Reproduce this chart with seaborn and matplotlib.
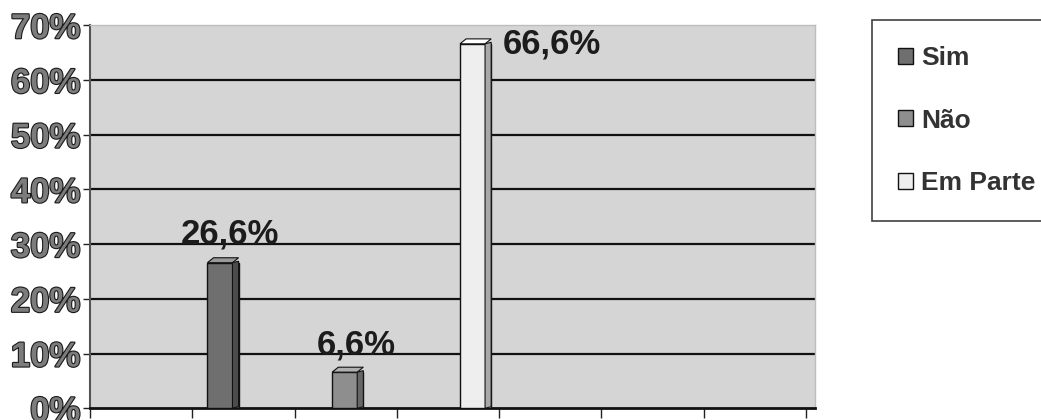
import matplotlib
matplotlib.use("Agg")
import matplotlib.pyplot as plt
import matplotlib.patheffects as pe
from matplotlib.patches import Polygon
import seaborn as sns
import pandas as pd

# Survey answers and their shares (%)
respostas = ["Sim", "Não", "Em Parte"]
percentuais = [26.6, 6.6, 66.6]
rotulos = ["26,6%", "6,6%", "66,6%"]
y_ticks = [0, 10, 20, 30, 40, 50, 60, 70]
y_tick_labels = ["0%", "10%", "20%", "30%", "40%", "50%", "60%", "70%"]

# Layout: column slots on the horizontal axis and label offsets (points)
slots = [1.30, 2.52, 3.77]
label_offsets = [(5, 21), (6, 19.5), (55, 0)]
cores = ["#6f6f6f", "#8e8e8e", "#eeeeee"]
cores_lado = ["#4c4c4c", "#666666", "#a8a8a8"]
cores_topo = ["#9a9a9a", "#b0b0b0", "#ffffff"]

df = pd.DataFrame({"slot": slots, "valor": percentuais, "resposta": respostas})

sns.set_style("white")
plt.rcParams["font.family"] = ["Liberation Sans", "DejaVu Sans"]

fig = plt.figure(figsize=(10.41, 4.20), dpi=100)
ax = fig.add_axes([0.0865, 0.028, 0.6965, 0.912])
ax.set_facecolor("#d5d5d5")

sns.barplot(data=df, x="slot", y="valor", hue="resposta", native_scale=True,
            dodge=False, palette=cores, width=0.25, edgecolor="#111111",
            linewidth=1.0, ax=ax, zorder=3)

ax.set_xlim(0, 7.09)
ax.set_ylim(0, 70)

# Pseudo-3D: side and top faces derived from each drawn bar
dx, dy = 0.06, 0.9
for patch, lado, topo in zip(ax.patches[:len(respostas)], cores_lado, cores_topo):
    x0 = patch.get_x()
    w = patch.get_width()
    h = patch.get_height()
    x1 = x0 + w
    side = Polygon([(x1 - dx, 0), (x1, dy * 0.3), (x1, h + dy * 0.3), (x1 - dx, h)],
                   closed=True, facecolor=lado, edgecolor="#111111", lw=0.8, zorder=4)
    top = Polygon([(x0, h), (x1 - dx, h), (x1, h + dy), (x0 + dx, h + dy)],
                  closed=True, facecolor=topo, edgecolor="#111111", lw=0.8, zorder=4)
    ax.add_patch(side)
    ax.add_patch(top)

# Horizontal grid lines
for v in y_ticks[1:-1]:
    ax.axhline(v, color="#111111", lw=1.6, zorder=2)

ax.set_yticks(y_ticks)
ax.set_yticklabels(y_tick_labels, fontsize=25, fontweight="bold", color="#7c7c7c")
for t in ax.get_yticklabels():
    t.set_path_effects([pe.withStroke(linewidth=1.6, foreground="#1a1a1a")])
ax.set_xticks(range(0, 8))
ax.set_xticklabels([])
ax.tick_params(axis="y", length=5, width=1, color="#222222", pad=2, direction="out", left=True)
ax.tick_params(axis="x", length=7, width=1, color="#222222", direction="out", bottom=True)
ax.set_xlabel("")
ax.set_ylabel("")

for s in ["top", "right"]:
    ax.spines[s].set_color("#bdbdbd")
    ax.spines[s].set_linewidth(1.0)
ax.spines["left"].set_color("#555555")
ax.spines["left"].set_linewidth(1.5)
ax.spines["bottom"].set_color("#111111")
ax.spines["bottom"].set_linewidth(2.0)

# Value labels
for patch, rot, off in zip(ax.patches[:len(respostas)], rotulos, label_offsets):
    cx = patch.get_x() + patch.get_width() / 2
    h = patch.get_height()
    ax.annotate(rot, (cx, h), xytext=off, textcoords="offset points",
                ha="center", va="center", fontsize=25, fontweight="bold",
                color="#1c1c1c", zorder=6, annotation_clip=False)

handles, labels = ax.get_legend_handles_labels()
leg = ax.legend(handles, labels, loc="upper left",
                bbox_to_anchor=(872 / 1041, 1 - 20 / 420),
                bbox_transform=fig.transFigure, frameon=True, fancybox=False,
                edgecolor="#111111", prop={"weight": "bold", "size": 19},
                handlelength=0.55, handleheight=0.55, handletextpad=0.3,
                labelspacing=1.45, borderpad=1.0, borderaxespad=0)
leg.get_frame().set_linewidth(1.2)
for txt in leg.get_texts():
    txt.set_color("#333333")

fig.savefig("out.png", dpi=100, facecolor="white")
